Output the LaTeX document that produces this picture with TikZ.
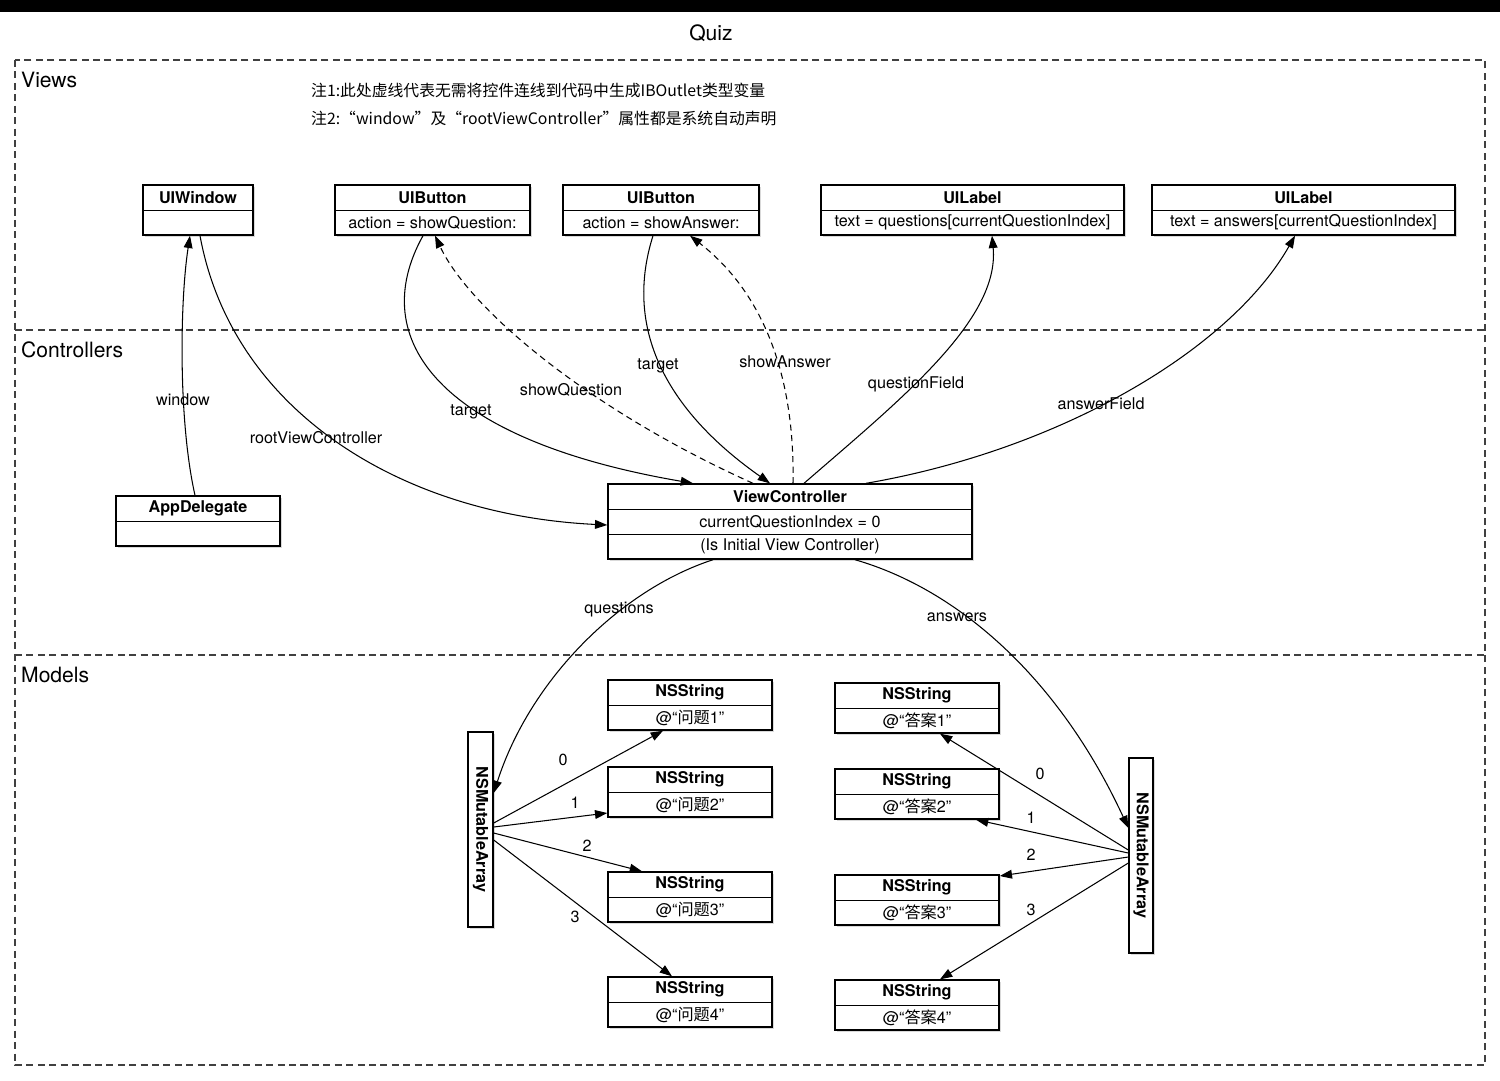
\documentclass[tikz,border=0pt]{standalone}
\usepackage{fontspec}
\setmainfont{TeX Gyre Heros}
\newfontfamily\cjk{Noto Sans CJK SC}
\usetikzlibrary{arrows.meta,fit,shadows}

\begin{document}
\begin{tikzpicture}[x=0.02cm,y=-0.02cm,
    area/.style={draw=black!75,line width=0.6pt,dash pattern=on 4pt off 2.5pt},
    box/.style={draw,line width=0.8pt,fill=white,inner sep=0pt,
      drop shadow={shadow xshift=1pt,shadow yshift=-1pt,opacity=.3}},
    ttl/.style={font=\fontsize{9.2}{11}\selectfont\bfseries},
    txt/.style={font=\fontsize{9.2}{11}\selectfont},
    lbl/.style={font=\fontsize{9.2}{11}\selectfont},
    head/.style={font=\fontsize{12}{14}\selectfont,anchor=west},
    note/.style={font=\cjk\fontsize{9}{11}\selectfont,anchor=west},
    link/.style={line width=0.6pt,-{Triangle[length=7pt,width=5pt]}},
    ref/.style={link,dash pattern=on 3.5pt off 2.5pt}]
    \useasboundingbox (0,0) rectangle (1500,1080);
    \fill[black] (0,0) rectangle (1500,12);
    \node[font=\fontsize{12}{14}\selectfont] (title) at (711,33) {Quiz};
    % layers
    \draw[area] (15,60) rectangle (1485,1065);
    \draw[area] (15,330) -- (1485,330);
    \draw[area] (15,655) -- (1485,655);
    \node[head] (views) at (15,80) {Views};
    \node[head] (ctrls) at (15,350) {Controllers};
    \node[head] (models) at (15,675) {Models};
    \node[note] (note1) at (305,90) {注1:此处虚线代表无需将控件连线到代码中生成IBOutlet类型变量};
    \node[note] (note2) at (305,118) {注2:“window”及“rootViewController”属性都是系统自动声明};
    % views
    \node[box,fit={(143,185) (253,235)}] (win) {};
    \draw (win.west |- 0,210) -- (win.east |- 0,210);
    \node[ttl] (winT) at (198,197.5) {UIWindow};
    \node[box,fit={(335,185) (530,235)}] (btnq) {};
    \draw (btnq.west |- 0,210) -- (btnq.east |- 0,210);
    \node[ttl] (btnqT) at (432.5,197.5) {UIButton};
    \node[txt] (btnqB) at (432.5,222.5) {action = showQuestion:};
    \node[box,fit={(563,185) (759,235)}] (btna) {};
    \draw (btna.west |- 0,210) -- (btna.east |- 0,210);
    \node[ttl] (btnaT) at (661,197.5) {UIButton};
    \node[txt] (btnaB) at (661,222.5) {action = showAnswer:};
    \node[box,fit={(821,185) (1124,235)}] (lblq) {};
    \draw (lblq.west |- 0,210) -- (lblq.east |- 0,210);
    \node[ttl] (lblqT) at (972.5,197.5) {UILabel};
    \node[txt] (lblqB) at (972.5,222.5) {text = questions[currentQuestionIndex]};
    \node[box,fit={(1152,185) (1455,235)}] (lbla) {};
    \draw (lbla.west |- 0,210) -- (lbla.east |- 0,210);
    \node[ttl] (lblaT) at (1303.5,197.5) {UILabel};
    \node[txt] (lblaB) at (1303.5,222.5) {text = answers[currentQuestionIndex]};
    % controllers
    \node[box,fit={(116,496) (280,546)}] (app) {};
    \draw (app.west |- 0,521) -- (app.east |- 0,521);
    \node[ttl] (appT) at (198,508.5) {AppDelegate};
    \node[box,fit={(608,484) (972,559)}] (vc) {};
    \draw (vc.west |- 0,509) -- (vc.east |- 0,509);
    \draw (vc.west |- 0,534) -- (vc.east |- 0,534);
    \node[ttl] (vcT) at (790,496.5) {ViewController};
    \node[txt] (vcB) at (790,521.5) {currentQuestionIndex = 0};
    \node[txt] (vcC) at (790,546.5) {(Is Initial View Controller)};
    % models
    \node[box,fit={(468,732) (493,927)}] (larr) {};
    \node[ttl,rotate=-90] (larrT) at (480.5,829.5) {NSMutableArray};
    \node[box,fit={(1129,758) (1153,953)}] (rarr) {};
    \node[ttl,rotate=-90] (rarrT) at (1141,855.5) {NSMutableArray};
    \node[box,fit={(608,680) (772,730)}] (q1) {};
    \draw (q1.west |- 0,705) -- (q1.east |- 0,705);
    \node[ttl] (q1T) at (690,692.5) {NSString};
    \node[txt] (q1B) at (690,717.5) {@“{\cjk 问题}1”};
    \node[box,fit={(608,767) (772,817)}] (q2) {};
    \draw (q2.west |- 0,792) -- (q2.east |- 0,792);
    \node[ttl] (q2T) at (690,779.5) {NSString};
    \node[txt] (q2B) at (690,804.5) {@“{\cjk 问题}2”};
    \node[box,fit={(608,872) (772,922)}] (q3) {};
    \draw (q3.west |- 0,897) -- (q3.east |- 0,897);
    \node[ttl] (q3T) at (690,884.5) {NSString};
    \node[txt] (q3B) at (690,909.5) {@“{\cjk 问题}3”};
    \node[box,fit={(608,977) (772,1027)}] (q4) {};
    \draw (q4.west |- 0,1002) -- (q4.east |- 0,1002);
    \node[ttl] (q4T) at (690,989.5) {NSString};
    \node[txt] (q4B) at (690,1014.5) {@“{\cjk 问题}4”};
    \node[box,fit={(835,683) (999,733)}] (a1) {};
    \draw (a1.west |- 0,708) -- (a1.east |- 0,708);
    \node[ttl] (a1T) at (917,695.5) {NSString};
    \node[txt] (a1B) at (917,720.5) {@“{\cjk 答案}1”};
    \node[box,fit={(835,769) (999,819)}] (a2) {};
    \draw (a2.west |- 0,794) -- (a2.east |- 0,794);
    \node[ttl] (a2T) at (917,781.5) {NSString};
    \node[txt] (a2B) at (917,806.5) {@“{\cjk 答案}2”};
    \node[box,fit={(835,875) (999,925)}] (a3) {};
    \draw (a3.west |- 0,900) -- (a3.east |- 0,900);
    \node[ttl] (a3T) at (917,887.5) {NSString};
    \node[txt] (a3B) at (917,912.5) {@“{\cjk 答案}3”};
    \node[box,fit={(835,980) (999,1030)}] (a4) {};
    \draw (a4.west |- 0,1005) -- (a4.east |- 0,1005);
    \node[ttl] (a4T) at (917,992.5) {NSString};
    \node[txt] (a4B) at (917,1017.5) {@“{\cjk 答案}4”};
    % connectors
    \draw[link] (app.north -| 195,0) .. controls (178,420) and (180,300) .. (win.south -| 190,0);
    \draw[link] (win.south -| 200,0) .. controls (232,410) and (400,515) .. (vc.west |- 0,525);
    \draw[link] (btnq.south -| 423,0) .. controls (365,340) and (440,440) .. (vc.north -| 693,0);
    \draw[ref] (vc.north -| 753,0) .. controls (590,410) and (470,310) .. (btnq.south -| 435,0);
    \draw[link] (btna.south -| 653,0) .. controls (620,340) and (680,420) .. (vc.north -| 770,0);
    \draw[ref] (vc.north -| 793,0) .. controls (795,370) and (760,290) .. (btna.south -| 690,0);
    \draw[link] (vc.north -| 804,0) .. controls (900,400) and (1000,320) .. (lblq.south -| 992,0);
    \draw[link] (vc.north -| 866,0) .. controls (1060,450) and (1230,350) .. (lbla.south -| 1295,0);
    \draw[link] (vc.south -| 713,0) .. controls (620,590) and (530,680) .. (larr.east |- 0,793);
    \draw[link] (vc.south -| 855,0) .. controls (960,590) and (1060,680) .. (rarr.west |- 0,828);
    \draw[link] (larr.east |- 0,823) -- (q1.south -| 663,0);
    \draw[link] (larr.east |- 0,827) -- (q2.west |- 0,813);
    \draw[link] (larr.east |- 0,833) -- (q3.north -| 642,0);
    \draw[link] (larr.east |- 0,840) -- (q4.north -| 672,0);
    \draw[link] (rarr.west |- 0,850) -- (a1.south -| 940,0);
    \draw[link] (rarr.west |- 0,853) -- (a2.south -| 976,0);
    \draw[link] (rarr.west |- 0,857) -- (a3.east |- 0,876);
    \draw[link] (rarr.west |- 0,863) -- (a4.north -| 940,0);
    % labels
    \node[lbl] (lwin) at (183,400) {window};
    \node[lbl] (lroot) at (316,438) {rootViewController};
    \node[lbl] (ltq) at (471,412) {target};
    \node[lbl] (lsq) at (571,390) {showQuestion};
    \node[lbl] (lta) at (658,366) {target};
    \node[lbl] (lsa) at (785,362) {showAnswer};
    \node[lbl] (lqf) at (916,384) {questionField};
    \node[lbl] (laf) at (1101,404) {answerField};
    \node[lbl] (lqs) at (619,610) {questions};
    \node[lbl] (las) at (957,617) {answers};
    \node[lbl] (lq0) at (563,760) {0};
    \node[lbl] (lq1) at (575,803) {1};
    \node[lbl] (lq2) at (587,846) {2};
    \node[lbl] (lq3) at (575,917) {3};
    \node[lbl] (la0) at (1040,774) {0};
    \node[lbl] (la1) at (1031,818) {1};
    \node[lbl] (la2) at (1031,855) {2};
    \node[lbl] (la3) at (1031,910) {3};
\end{tikzpicture}
\end{document}
